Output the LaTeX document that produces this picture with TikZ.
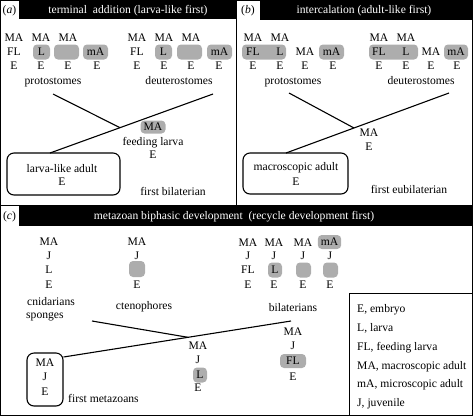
\documentclass[tikz,border=0pt]{standalone}
\usepackage{fontspec}
\setmainfont{Liberation Serif}
\begin{document}
\fontsize{11.6}{13}\selectfont
\begin{tikzpicture}[x=1pt,y=-1pt,
    lb/.style={text height=8pt,text depth=1pt,inner sep=0pt},
    gbox/.style={lb,fill=black!32,rounded corners=4pt,inner sep=3pt},
    adultbox/.style={draw,line width=1.1pt,rounded corners=7pt,inner sep=0pt},
    branch/.style={line width=1.1pt},
    hdr/.style={lb,text=white}]
    \useasboundingbox (0,0) rectangle (473,416);
    % frames and header bars
    \draw [line width=0.8pt] (0.5,0.5) rectangle (472.5,415.5);
    \draw [line width=0.8pt] (236.5,0) -- (236.5,205.5);
    \draw [line width=0.8pt] (0,205.5) -- (473,205.5);
    \fill (19,0) rectangle (236.5,19);
    \fill (260,0) rectangle (473,20);
    \fill (19,205.5) rectangle (473,226);
    \node [lb] (taga) at (9.5,10) {(\textit{a})};
    \node [lb] (tagb) at (248,10) {(\textit{b})};
    \node [lb] (tagc) at (9.5,216) {(\textit{c})};
    \node [hdr] (ha) at (128,10) {terminal\ \ addition (larva-like first)};
    \node [hdr] (hb) at (364,10) {intercalation (adult-like first)};
    \node [hdr] (hc) at (234,216) {metazoan biphasic development\ \ (recycle development first)};

    % (a) protostomes
    \node [lb] (apMA1) at (14,38) {MA};
    \node [lb] (apFL1) at (14,52) {FL};
    \node [lb] (apE1) at (14,66) {E};
    \node [lb] (apMA2) at (41,38) {MA};
    \node [gbox,minimum width=17pt] (apL2) at (41.5,52) {L};
    \node [lb] (apE2) at (41,66) {E};
    \node [lb] (apMA3) at (68,38) {MA};
    \node [gbox,minimum width=25pt] (apX3) at (66.5,52) {};
    \node [lb] (apE3) at (68,66) {E};
    \node [gbox,minimum width=25pt] (apmA4) at (95.5,52) {mA};
    \node [lb] (apE4) at (97,66) {E};
    \node [lb] (aprot) at (53,81) {protostomes};
    % (a) deuterostomes
    \node [lb] (adMA1) at (137,38) {MA};
    \node [lb] (adFL1) at (137,52) {FL};
    \node [lb] (adE1) at (137,66) {E};
    \node [lb] (adMA2) at (164,38) {MA};
    \node [gbox,minimum width=17pt] (adL2) at (163.5,52) {L};
    \node [lb] (adE2) at (164,66) {E};
    \node [lb] (adMA3) at (191,38) {MA};
    \node [gbox,minimum width=25pt] (adX3) at (189.5,52) {};
    \node [lb] (adE3) at (191,66) {E};
    \node [gbox,minimum width=25pt] (admA4) at (219.5,52) {mA};
    \node [lb] (adE4) at (219,66) {E};
    \node [lb] (adeut) at (179,81) {deuterostomes};
    % (a) ancestor
    \node [gbox,minimum width=25pt,inner ysep=2pt] (afMA) at (153,127) {MA};
    \node [lb] (afl) at (153,142) {feeding larva};
    \node [lb] (afE) at (153,155) {E};
    \node [adultbox,minimum width=113pt,minimum height=42pt] (alla) at (63.5,174) {};
    \node [lb] (allt) at (62,169) {larva-like adult};
    \node [lb] (allE) at (62,182) {E};
    \node [lb] (afirst) at (173,192) {first bilaterian};
    \coordinate (ap) at (53,94);
    \coordinate (ad) at (213,94);
    \coordinate (aj) at (120,127.7);
    \coordinate (ab) at (50,153);
    \draw [branch] (ap) -- (aj);
    \draw [branch] (ad) -- (ab);

    % (b) protostomes
    \node [gbox,minimum width=44pt] (bpFL) at (264,52) {};
    \node [lb] (bpMA1) at (253,38) {MA};
    \node [lb] (bpFL1) at (253,52) {FL};
    \node [lb] (bpE1) at (253,66) {E};
    \node [lb] (bpMA2) at (280,38) {MA};
    \node [lb] (bpL2) at (280,52) {L};
    \node [lb] (bpE2) at (280,66) {E};
    \node [lb] (bpMA3) at (305,52) {MA};
    \node [lb] (bpE3) at (305,66) {E};
    \node [gbox,minimum width=25pt] (bpmA4) at (331.5,52) {mA};
    \node [lb] (bpE4) at (333,66) {E};
    \node [lb] (bprot) at (293,81) {protostomes};
    % (b) deuterostomes
    \node [gbox,minimum width=49pt] (bdFL) at (393.5,52) {};
    \node [lb] (bdMA1) at (379,38) {MA};
    \node [lb] (bdFL1) at (379,52) {FL};
    \node [lb] (bdE1) at (379,66) {E};
    \node [lb] (bdMA2) at (406,38) {MA};
    \node [lb] (bdL2) at (406,52) {L};
    \node [lb] (bdE2) at (406,66) {E};
    \node [lb] (bdMA3) at (431,52) {MA};
    \node [lb] (bdE3) at (431,66) {E};
    \node [gbox,minimum width=24pt] (bdmA4) at (456,52) {mA};
    \node [lb] (bdE4) at (457,66) {E};
    \node [lb] (bdeut) at (421,81) {deuterostomes};
    % (b) ancestor
    \node [lb] (bjMA) at (369,133) {MA};
    \node [lb] (bjE) at (369,147) {E};
    \node [adultbox,minimum width=105pt,minimum height=41pt] (bma) at (295.5,173.5) {};
    \node [lb] (bmat) at (296,167) {macroscopic adult};
    \node [lb] (bmaE) at (296,182) {E};
    \node [lb] (bfirst) at (409,190) {first eubilaterian};
    \coordinate (bp) at (289,93);
    \coordinate (bd) at (449,93);
    \coordinate (bj) at (354,128);
    \coordinate (bb) at (286,153);
    \draw [branch] (bp) -- (bj);
    \draw [branch] (bd) -- (bb);

    % (c) cnidarians and sponges
    \node [lb] (ccMA) at (49,242) {MA};
    \node [lb] (ccJ) at (49,256) {J};
    \node [lb] (ccL) at (49,270) {L};
    \node [lb] (ccE) at (49,285) {E};
    \node [lb,anchor=west] (ccnid) at (27,302) {cnidarians};
    \node [lb,anchor=west] (cspon) at (26,315) {sponges};
    % (c) ctenophores
    \node [lb] (ctMA) at (137,242) {MA};
    \node [lb] (ctJ) at (137,256) {J};
    \node [gbox,minimum width=16pt,minimum height=16pt] (ctX) at (137,269) {};
    \node [lb] (ctE) at (137,285) {E};
    \node [lb] (cteno) at (144,306) {ctenophores};
    % (c) bilaterians
    \node [lb] (cbMA1) at (248,243) {MA};
    \node [lb] (cbJ1) at (248,256) {J};
    \node [lb] (cbFL1) at (248,270) {FL};
    \node [lb] (cbE1) at (248,285) {E};
    \node [lb] (cbMA2) at (274,243) {MA};
    \node [lb] (cbJ2) at (274,256) {J};
    \node [gbox,minimum width=14pt,inner xsep=1pt] (cbL2) at (275,270) {L};
    \node [lb] (cbE2) at (274,285) {E};
    \node [lb] (cbMA3) at (303,243) {MA};
    \node [lb] (cbJ3) at (303,256) {J};
    \node [gbox,minimum width=15pt] (cbX3) at (303.5,270) {};
    \node [lb] (cbE3) at (303,285) {E};
    \node [gbox,minimum width=23pt,inner ysep=2.5pt] (cbmA4) at (329.5,242) {mA};
    \node [lb] (cbJ4) at (330,256) {J};
    \node [gbox,minimum width=15pt] (cbX4) at (330.5,270) {};
    \node [lb] (cbE4) at (330,285) {E};
    \node [lb] (cbila) at (293,308) {bilaterians};
    \node [lb] (cfMA) at (293,332) {MA};
    \node [lb] (cfJ) at (293,346) {J};
    \node [gbox,minimum width=26pt,inner ysep=2.5pt] (cfFL) at (293,361) {FL};
    \node [lb] (cfE) at (293,377) {E};
    % (c) junction and first metazoans
    \node [lb] (cjMA) at (198,346) {MA};
    \node [lb] (cjJ) at (198,360) {J};
    \node [gbox,minimum width=14pt,inner xsep=1pt] (cjL) at (200,375) {L};
    \node [lb] (cjE) at (198,388) {E};
    \node [adultbox,minimum width=36pt,minimum height=53pt] (cfm) at (45,379.5) {};
    \node [lb] (cfmMA) at (45,363) {MA};
    \node [lb] (cfmJ) at (45,377) {J};
    \node [lb] (cfmE) at (45,392) {E};
    \node [lb,anchor=west] (cfirst) at (68,399) {first metazoans};
    \coordinate (cc) at (92,321);
    \coordinate (cj) at (188,337.3);
    \coordinate (cb) at (291,321);
    \draw [branch] (cc) -- (cj);
    \draw [branch] (cfm.east |- 0,357) -- (cb);

    % legend
    \draw [line width=0.8pt] (349,293) rectangle (472.5,415.5);
    \node [lb,anchor=west] (key1) at (357,309) {E, embryo};
    \node [lb,anchor=west] (key2) at (357,328) {L, larva};
    \node [lb,anchor=west] (key3) at (357,347) {FL, feeding larva};
    \node [lb,anchor=west] (key4) at (357,366) {MA, macroscopic adult};
    \node [lb,anchor=west] (key5) at (357,384) {mA, microscopic adult};
    \node [lb,anchor=west] (key6) at (357,403) {J, juvenile};
\end{tikzpicture}
\end{document}
